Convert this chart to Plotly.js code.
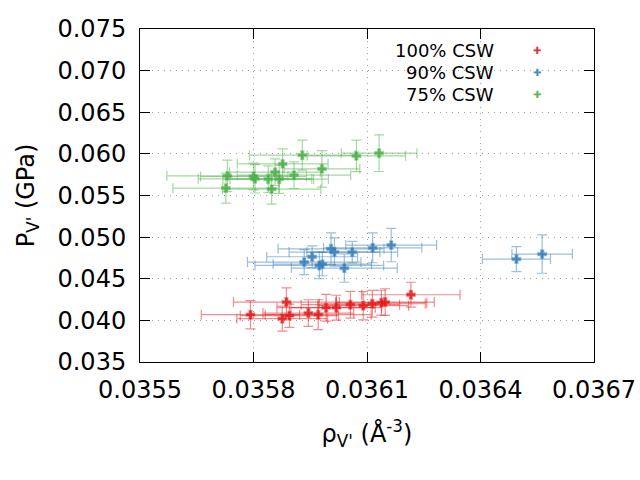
<!DOCTYPE html>
<html>
<head>
<meta charset="utf-8">
<script src="https://cdn.plot.ly/plotly-3.0.1.min.js"></script>
<style>
  html, body { margin: 0; padding: 0; background: #fff; }
  #chart { width: 640px; height: 480px; }
</style>
</head>
<body>
<div id="chart"></div>
<script>
// series labels and colours
const labels = ['100% CSW', '90% CSW', '75% CSW'];
const colors = ['#e41a1c', '#377eb8', '#4daf4a'];
const barColors = ['rgba(228,26,28,0.5)', 'rgba(55,126,184,0.5)', 'rgba(77,175,74,0.5)'];

// 100% CSW
const rho100 = [0.035792, 0.035876, 0.035887, 0.035895, 0.035945, 0.035971, 0.035992,
  0.036019, 0.036056, 0.036090, 0.036114, 0.036138, 0.036148, 0.036216];
const p100 = [0.04068, 0.04020, 0.04220, 0.04056, 0.04088, 0.04068, 0.04152,
  0.04152, 0.04188, 0.04176, 0.04200, 0.04212, 0.04220, 0.04308];
const rho100Err = [0.00013, 0.00012, 0.00014, 0.00013, 0.00012, 0.00014, 0.00013,
  0.00012, 0.00013, 0.00012, 0.00014, 0.00012, 0.00013, 0.00013];
const p100Err = [0.0017, 0.0015, 0.0017, 0.0014, 0.0016, 0.0018, 0.0016,
  0.0015, 0.0016, 0.0017, 0.0016, 0.0015, 0.0016, 0.0015];

// 90% CSW
const rho90 = [0.035934, 0.035955, 0.035974, 0.035982, 0.036005, 0.036014,
  0.036040, 0.036061, 0.036115, 0.036164, 0.036495, 0.036563];
const p90 = [0.04700, 0.04764, 0.04660, 0.04676, 0.04860, 0.04820,
  0.04628, 0.04820, 0.04872, 0.04904, 0.04736, 0.04796];
const rho90Err = [0.00015, 0.00012, 0.00017, 0.00013, 0.00014, 0.00012,
  0.00014, 0.00012, 0.00013, 0.00012, 0.00009, 0.00008];
const p90Err = [0.0015, 0.0013, 0.0016, 0.0014, 0.0019, 0.0017,
  0.0017, 0.0013, 0.0018, 0.0020, 0.0015, 0.0023];

// 75% CSW
const rho75 = [0.035731, 0.035727, 0.035800, 0.035804, 0.035839, 0.035848, 0.035857,
  0.035868, 0.035877, 0.035907, 0.035929, 0.035981, 0.036072, 0.036132];
const p75 = [0.05736, 0.05588, 0.05728, 0.05700, 0.05696, 0.05576, 0.05780,
  0.05696, 0.05880, 0.05744, 0.05984, 0.05820, 0.05976, 0.06008];
const rho75Err = [0.00016, 0.00014, 0.00014, 0.00015, 0.00012, 0.00013, 0.00012,
  0.00013, 0.00012, 0.00015, 0.00014, 0.00010, 0.00013, 0.00010];
const p75Err = [0.0019, 0.0018, 0.0016, 0.0017, 0.0016, 0.0018, 0.0016,
  0.0017, 0.0018, 0.0016, 0.0018, 0.0022, 0.0019, 0.0022];

// axis ticks
const xTicks = [0.0355, 0.0358, 0.0361, 0.0364, 0.0367];
const yTicks = [0.035, 0.040, 0.045, 0.050, 0.055, 0.060, 0.065, 0.070, 0.075];

const font = 'DejaVu Sans, sans-serif';

function makeTrace(x, y, ex, ey, idx) {
  return {
    x: x,
    y: y,
    name: labels[idx],
    type: 'scatter',
    mode: 'markers',
    showlegend: false,
    marker: {
      symbol: 'cross',
      size: 7,
      color: colors[idx],
      opacity: 0.85,
      line: { color: barColors[idx], width: 1.5 },
    },
    error_x: { type: 'data', array: ex, color: barColors[idx], thickness: 1.2, width: 5 },
    error_y: { type: 'data', array: ey, color: barColors[idx], thickness: 1.2, width: 5 },
  };
}

const traces = [
  makeTrace(rho100, p100, rho100Err, p100Err, 0),
  makeTrace(rho90, p90, rho90Err, p90Err, 1),
  makeTrace(rho75, p75, rho75Err, p75Err, 2),
];

const axisCommon = {
  showline: true,
  mirror: 'ticks',
  linecolor: '#000',
  linewidth: 1,
  ticks: 'inside',
  ticklen: 10,
  tickcolor: '#000',
  showgrid: true,
  gridcolor: '#a0a0a0',
  griddash: '1px,5px',
  gridwidth: 1,
  zeroline: false,
  tickfont: { family: font, size: 24, color: '#000' },
};

// key drawn gnuplot style: text right-aligned, point sample to its right
const legendRows = [50, 72, 94];
const annotations = [];
labels.forEach((txt, i) => {
  annotations.push({
    text: txt,
    xref: 'paper',
    yref: 'paper',
    x: (496 - 140) / 454,
    y: (362 - legendRows[i]) / 333,
    xanchor: 'right',
    yanchor: 'middle',
    showarrow: false,
    font: { family: font, size: 18, color: '#000' },
  });
  annotations.push({
    text: '✚',
    xref: 'paper',
    yref: 'paper',
    x: (537 - 140) / 454,
    y: (362 - legendRows[i]) / 333,
    xanchor: 'center',
    yanchor: 'middle',
    showarrow: false,
    opacity: 0.9,
    font: { family: font, size: 10, color: colors[i] },
  });
});

const layout = {
  width: 640,
  height: 480,
  margin: { l: 140, r: 46, t: 29, b: 118 },
  paper_bgcolor: '#fff',
  plot_bgcolor: '#fff',
  font: { family: font, color: '#000' },
  showlegend: false,
  xaxis: Object.assign({}, axisCommon, {
    range: [0.0355, 0.0367],
    tickvals: xTicks,
    ticktext: xTicks.map(v => v.toFixed(4)),
    ticklabelstandoff: 6,
    title: { text: 'ρ<sub>V\'</sub> (Å<sup>-3</sup>)', font: { family: font, size: 24 }, standoff: 22 },
  }),
  yaxis: Object.assign({}, axisCommon, {
    range: [0.035, 0.075],
    tickvals: yTicks,
    ticktext: yTicks.map(v => v.toFixed(3)),
    ticklabelstandoff: 8,
    title: { text: 'P<sub>V\'</sub> (GPa)', font: { family: font, size: 24 }, standoff: 16 },
  }),
  annotations: annotations,
};

Plotly.newPlot('chart', traces, layout, { displayModeBar: false, staticPlot: true });
</script>
</body>
</html>
